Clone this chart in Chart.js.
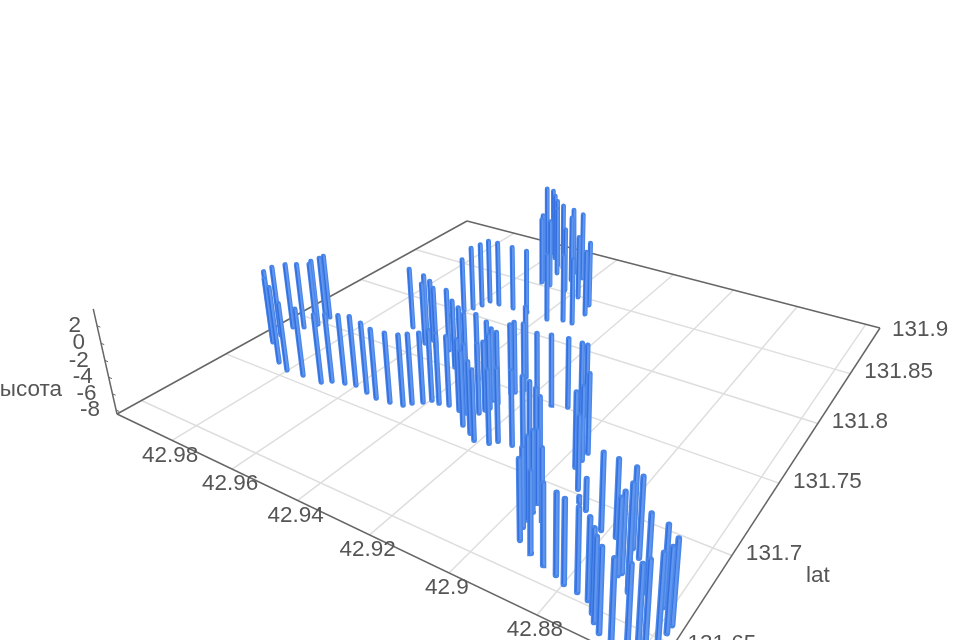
<!DOCTYPE html>
<html>
<head>
<meta charset="utf-8">
<script src="https://cdn.jsdelivr.net/npm/chart.js@4/dist/chart.umd.min.js"></script>
<style>
  html, body { margin: 0; background: #fff; overflow: hidden; }
  #chart { display: block; filter: blur(0.55px); }
</style>
</head>
<body>
<canvas id="chart" width="960" height="640"></canvas>
<script>
// depth soundings: one bar per reading
const lonValues = [42.9950,42.9952,42.9942,42.9850,42.9803,42.9957,42.9750,42.9931,42.9911,42.9910,42.9908,42.9911,42.9687,42.9667,42.9633,42.9603,42.9558,42.9520,42.9480,42.9444,42.9431,42.9411,42.9398,42.9375,42.9349,42.9673,42.9611,42.9588,42.9580,42.9549,42.9510,
  42.9444,42.9422,42.9396,42.9612,42.9597,42.9586,42.9581,42.9548,42.9499,42.9451,42.9519,42.9527,42.9623,42.9602,42.9577,42.9547,42.9516,42.9474,42.9450,42.9429,42.9380,42.9338,42.9307,42.9303,42.9321,42.9374,42.9431,42.9513,42.9487,42.9315,42.9293,
  42.9267,42.9262,42.9257,42.9271,42.9253,42.9307,42.9356,42.9270,42.9236,42.9212,42.9176,42.9163,42.9251,42.9127,42.9245,42.9231,42.9260,42.9095,42.9072,42.9050,42.9023,42.9191,42.9138,42.9099,42.9061,42.9044,42.8965,42.8963,42.8963,42.8919,42.8870,
  42.8895,42.8936,42.8952,42.8955,42.8960,42.8967,42.8931,42.8897,42.8859,42.8824,42.8799,42.8767,42.8740,42.8718,42.8704,42.8684,42.8813,42.8778,42.8734,42.8711,42.8687,42.8720,42.8724,42.8689,42.8656,42.8615,42.8582,42.8582,42.8588,42.8601,42.8607,42.8623,42.8653];
const latValues = [131.7226,131.7285,131.7211,131.7087,131.7054,131.7380,131.7062,131.7412,131.7462,131.7475,131.7531,131.7567,131.7063,131.7097,131.7117,131.7132,131.7114,131.7098,131.7107,131.7120,131.7155,131.7189,131.7224,131.7222,131.7234,131.7721,131.7693,131.7622,131.7668,131.7620,131.7632,
  131.7516,131.7509,131.7485,131.8019,131.8065,131.8120,131.8183,131.8180,131.8183,131.8185,131.8539,131.8576,131.8908,131.8915,131.8860,131.8794,131.8765,131.8750,131.8652,131.8710,131.8176,131.8213,131.8210,131.8335,131.8438,131.8488,131.8523,131.8688,131.8531,131.7225,131.7223,
  131.7255,131.7289,131.7315,131.7376,131.7368,131.7434,131.7480,131.7140,131.7107,131.7074,131.7091,131.7124,131.7470,131.7133,131.7488,131.7525,131.7626,131.7128,131.7115,131.7099,131.7050,131.7522,131.7486,131.7513,131.7510,131.7502,131.7259,131.7203,131.7146,131.7028,131.6933,
  131.6960,131.6651,131.6718,131.6762,131.6812,131.6868,131.6791,131.6614,131.6585,131.6567,131.6544,131.6536,131.6523,131.6479,131.6447,131.6414,131.6863,131.6859,131.6840,131.6805,131.6632,131.6703,131.6686,131.6640,131.6663,131.6634,131.6576,131.6535,131.6492,131.6446,131.6415,131.6396,131.6390];
const heightValues = [0.5,0.5,-0.2,1.0,-0.1,-0.1,-0.2,-0.1,-0.3,0,-0.1,-0.2,-0.1,-0.2,-0.1,0,0,-0.1,-0.1,0,-0.1,-0.1,0,-0.1,-0.2,-0.7,-0.6,-0.7,-0.7,-0.8,-0.7,
  -0.1,-0.6,-0.8,-1.5,-0.2,-0.1,-0.1,0,-0.1,-0.1,0.5,0.7,1.1,0.9,0.8,0.8,0.7,0.6,0.5,0.7,0.2,0.2,0.1,0,0.1,-0.1,0.1,0.8,0.6,0,-0.3,
  -0.2,-0.3,0.3,0.2,0.1,-0.1,-0.3,0.2,-0.1,-0.3,0,-0.1,-0.1,0.1,0.1,-0.3,0.3,0,-0.1,-0.3,-0.2,-0.9,0,-0.2,-0.2,-0.1,0.6,-0.1,0,-0.4,-5.0,
  -7.9,0.1,0,0.5,0.3,-0.5,-0.7,0.1,0,0,0.2,0.1,-0.1,0,0,0,-0.2,-0.2,0,0,2.4,-0.1,-0.5,-0.1,-0.4,-0.2,0.1,0,0.1,0,0,0,0];

const lonTicks = [42.98, 42.96, 42.94, 42.92, 42.9, 42.88, 42.86];
const latTicks = [131.9, 131.85, 131.8, 131.75, 131.7, 131.65];
const heightTicks = [2, 0, -2, -4, -6, -8];

const LON_MAX = 43, LON_MIN = 42.856;
const LAT_MIN = 131.637, LAT_MAX = 131.904;
const Z_MIN = -8.5, Z_MAX = 3.9;

// camera: floor corners on screen, plus where the verticals converge
const CORNERS = [[117, 414], [656, 672], [880, 328], [467, 221]];
const VANISH = [542, 2293];
const Z_SCALE = -0.00427;

const [x0, y0] = CORNERS[0], [x1, y1] = CORNERS[1], [x2, y2] = CORNERS[2], [x3, y3] = CORNERS[3];
const sx = x0 - x1 + x2 - x3, sy = y0 - y1 + y2 - y3;
const det = (x1 - x2) * (y3 - y2) - (x3 - x2) * (y1 - y2);
const g = (sx * (y3 - y2) - (x3 - x2) * sy) / det;
const h = ((x1 - x2) * sy - sx * (y1 - y2)) / det;

function project(lon, lat, z) {
  const u = (lon - LON_MAX) / (LON_MIN - LON_MAX);
  const v = (lat - LAT_MIN) / (LAT_MAX - LAT_MIN);
  const c = (z - Z_MIN) * Z_SCALE;
  const X = (x1 - x0 + g * x1) * u + (x3 - x0 + h * x3) * v + x0 + c * VANISH[0];
  const Y = (y1 - y0 + g * y1) * u + (y3 - y0 + h * y3) * v + y0 + c * VANISH[1];
  const W = g * u + h * v + 1 + c;
  return { x: X / W, y: Y / W, w: W };
}

const line = (a, b, color, width, extra) => Object.assign({
  data: [a, b], borderColor: color, borderWidth: width, showLine: true, pointRadius: 0, fill: false
}, extra);

const datasets = [];

// bars, nearest first since chart.js paints the first dataset on top
const order = lonValues.map((_, i) => i).sort((a, b) =>
  project(lonValues[b], latValues[b], Z_MIN).y - project(lonValues[a], latValues[a], Z_MIN).y);
order.forEach(i => {
  const lo = project(lonValues[i], latValues[i], Z_MIN);
  const hi = project(lonValues[i], latValues[i], heightValues[i]);
  const size = 4.8 + (lo.y - 260) / 190;  // nearer bars are a bit fatter
  datasets.push(line({ x: lo.x + 0.6, y: lo.y }, { x: hi.x + 0.6, y: hi.y }, '#6096ee', size * 0.36));
  datasets.push(line({ x: lo.x - 1, y: lo.y }, { x: hi.x - 1, y: hi.y }, '#336fdf', size * 0.3));
  datasets.push(line(lo, hi, '#4a86e8', size, { borderCapStyle: 'round' }));
});

// box edges
const cL = project(LON_MAX, LAT_MIN, Z_MIN), cF = project(LON_MIN, LAT_MIN, Z_MIN);
const cR = project(LON_MIN, LAT_MAX, Z_MIN), cB = project(LON_MAX, LAT_MAX, Z_MIN);
[[cL, cF], [cF, cR], [cR, cB], [cB, cL], [cL, project(LON_MAX, LAT_MIN, Z_MAX)]].forEach(([a, b]) => {
  datasets.push(line(a, b, '#666', 1.5));
});
heightTicks.forEach(t => {
  datasets.push(line(project(LON_MAX, LAT_MIN, t), project(LON_MAX - 0.0012, LAT_MIN, t), '#666', 1));
});

// floor grid
lonTicks.forEach(t => datasets.push(line(project(t, LAT_MIN, Z_MIN), project(t, LAT_MAX, Z_MIN), '#dedede', 1.5)));
latTicks.slice(1).forEach(t => datasets.push(line(project(LON_MIN, t, Z_MIN), project(LON_MAX, t, Z_MIN), '#dedede', 1.5)));

const axisText = {
  id: 'axisText',
  afterDraw(chart) {
    const c = chart.ctx;
    c.save();
    c.fillStyle = '#555';
    c.font = '22.5px "Liberation Sans"';
    c.textBaseline = 'middle';
    c.textAlign = 'center';
    lonTicks.forEach(t => {
      const p = project(t, LAT_MIN, Z_MIN);
      c.fillText(String(t), p.x - 2, p.y + 15);
    });
    c.textAlign = 'left';
    latTicks.forEach(t => {
      const p = project(LON_MIN, t, Z_MIN);
      c.fillText(String(t), p.x + 14, p.y - 1.5);
    });
    c.fillText('lat', 806, 576);
    c.textAlign = 'right';
    heightTicks.forEach(t => {
      const p = project(LON_MAX, LAT_MIN, t);
      c.fillText(String(t), p.x - 16, p.y);
    });
    c.fillText('высота', 62, 390);
    c.restore();
  }
};

new Chart(document.getElementById('chart').getContext('2d'), {
  type: 'scatter',
  data: { datasets },
  plugins: [axisText],
  options: {
    responsive: false,
    animation: false,
    layout: { padding: 0 },
    elements: { line: { borderCapStyle: 'butt', tension: 0 } },
    plugins: { legend: { display: false }, tooltip: { enabled: false }, title: { display: false } },
    scales: {
      x: { type: 'linear', min: 0, max: 960, display: false },
      y: { type: 'linear', min: 0, max: 640, reverse: true, display: false }
    }
  }
});
</script>
</body>
</html>
